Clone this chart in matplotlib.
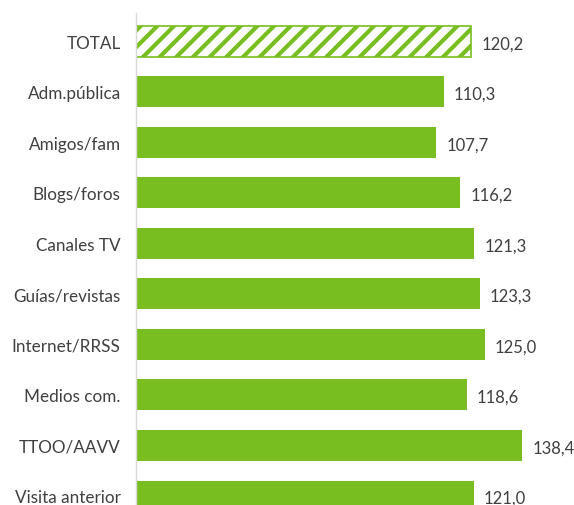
import matplotlib.pyplot as plt

categories = ["TOTAL", "Adm.pública", "Amigos/fam", "Blogs/foros", "Canales TV",
              "Guías/revistas", "Internet/RRSS", "Medios com.", "TTOO/AAVV", "Visita anterior"]
values = [120.2, 110.3, 107.7, 116.2, 121.3, 123.3, 125.0, 118.6, 138.4, 121.0]

green = "#78be20"
text_col = "#404040"

plt.rcParams['font.family'] = ['Lato', 'DejaVu Sans']
plt.rcParams['hatch.linewidth'] = 3.0
plt.rcParams['hatch.color'] = green

W, H = 574, 506
fig = plt.figure(figsize=(W / 100, H / 100), dpi=100)
# axes from x=136px to right edge, y from 14px down to bottom
ax = fig.add_axes([136 / W, 0, 1 - 136 / W, (H - 14) / H])

pos = list(range(len(categories)))
for i, (c, v) in enumerate(zip(categories, values)):
    if c == "TOTAL":
        ax.barh(i, v, height=0.61, color="white", edgecolor=green, hatch="//", linewidth=1.2)
    else:
        ax.barh(i, v, height=0.61, color=green, edgecolor="none")
    ax.text(v + 3.6, i + 0.04, f"{v:.1f}".replace(".", ","), va="center", ha="left",
            fontsize=12, color=text_col)

ax.set_xlim(0, (W - 136) / 2.79)
ax.set_ylim(9.18, -0.56)
ax.set_yticks(pos)
ax.set_yticklabels(categories, fontsize=12.3, color=text_col)
ax.tick_params(axis="y", length=0, pad=11)
ax.set_xticks([])
for s in ["top", "right", "bottom"]:
    ax.spines[s].set_visible(False)
ax.spines["left"].set_color("#d9d9d9")
ax.spines["left"].set_linewidth(1)

fig.savefig("out.png", dpi=100)
